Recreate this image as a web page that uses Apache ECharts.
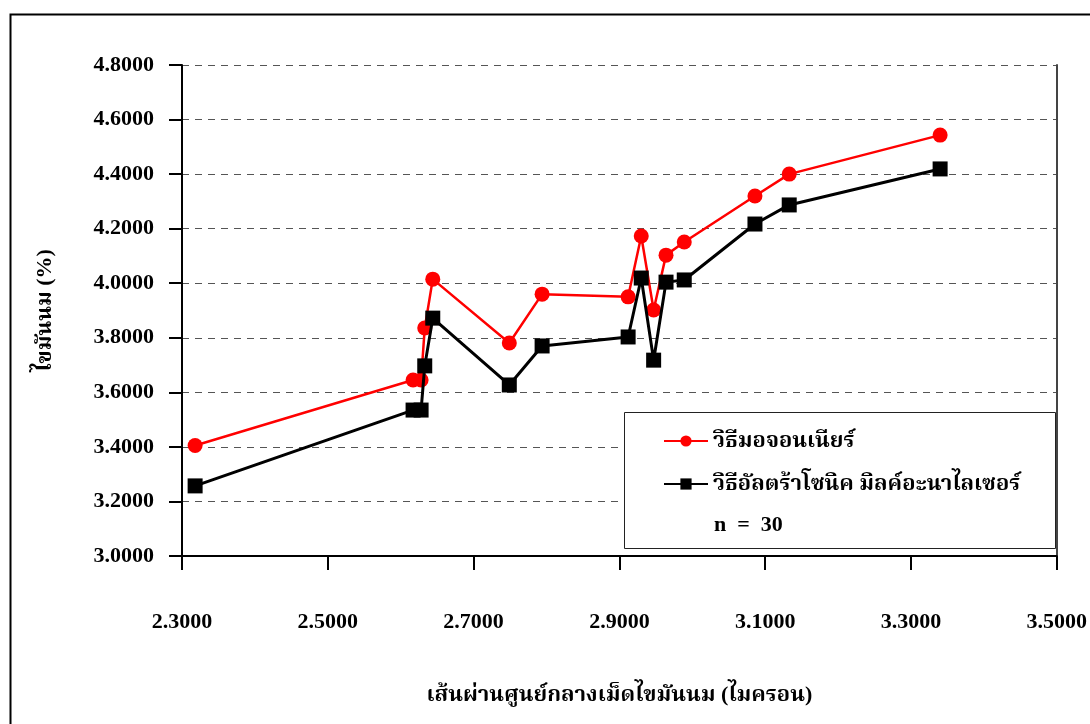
<!DOCTYPE html>
<html>
<head>
<meta charset="utf-8">
<script src="https://cdn.jsdelivr.net/npm/echarts@6/dist/echarts.min.js"></script>
<style>
html,body{margin:0;padding:0;background:#fff;}
#chart{width:1090px;height:724px;}
</style>
</head>
<body>
<div id="chart"></div>
<script>
// Data
var diameter = [2.318, 2.617, 2.628, 2.633, 2.644, 2.749, 2.794, 2.912, 2.930, 2.947, 2.964, 2.989, 3.086, 3.133, 3.340];
var mojonnier = [3.405, 3.645, 3.645, 3.836, 4.015, 3.781, 3.960, 3.950, 4.173, 3.902, 4.103, 4.151, 4.320, 4.400, 4.543];
var ultrasonic = [3.257, 3.535, 3.535, 3.697, 3.872, 3.627, 3.770, 3.803, 4.019, 3.718, 4.004, 4.012, 4.217, 4.287, 4.419];
var xTicks = [2.3, 2.5, 2.7, 2.9, 3.1, 3.3, 3.5];
var yTicks = [3.0, 3.2, 3.4, 3.6, 3.8, 4.0, 4.2, 4.4, 4.6, 4.8];
var seriesNames = ['วิธีมอจอนเนียร์', 'วิธีอัลตร้าโซนิค มิลค์อะนาไลเซอร์'];
var noteText = 'n  =  30';
var xTitle = 'เส้นผ่านศูนย์กลางเม็ดไขมันนม (ไมครอน)';
var yTitle = 'ไขมันนม (%)';

var FONT = '"Liberation Serif", "Times New Roman", "Noto Serif Thai", "Noto Sans Thai", "Loma", "Garuda", serif';

function pairs(xs, ys) { return xs.map(function (x, i) { return [x, ys[i]]; }); }

var chart = echarts.init(document.getElementById('chart'), null, {renderer: 'canvas'});
chart.setOption({
  animation: false,
  backgroundColor: '#ffffff',
  textStyle: {fontFamily: FONT},
  grid: {left: 182, right: 32, top: 65, bottom: 168, containLabel: false},
  graphic: [
    {type: 'rect', left: 8, top: 12, shape: {width: 1200, height: 900}, style: {fill: null, stroke: '#000', lineWidth: 2}, z: -10, silent: true},
    {type: 'rect', left: 624, top: 412, shape: {width: 431, height: 136}, style: {fill: '#fff', stroke: '#222', lineWidth: 1}, z: 50, silent: true},
    {type: 'text', left: 714, top: 514, style: {text: noteText, font: 'bold 22px ' + FONT, fill: '#000'}, z: 60, silent: true}
  ],
  legend: {
    orient: 'vertical',
    left: 663, top: 430,
    itemWidth: 44, itemHeight: 14, itemGap: 21,
    padding: 0,
    z: 60,
    textStyle: {fontFamily: FONT, fontSize: 22, fontWeight: 'bold', color: '#000'},
    data: seriesNames
  },
  xAxis: {
    type: 'value', min: xTicks[0], max: xTicks[xTicks.length - 1],
    name: xTitle, nameLocation: 'middle', nameGap: 128,
    nameTextStyle: {fontFamily: FONT, fontSize: 22, fontWeight: 'bold', color: '#000'},
    axisLine: {show: true, onZero: false, lineStyle: {color: '#000', width: 2}},
    axisTick: {show: true, customValues: xTicks, length: 14, lineStyle: {color: '#000', width: 2}},
    axisLabel: {customValues: xTicks, margin: 55, fontFamily: FONT, fontSize: 22, fontWeight: 'bold', color: '#000',
      formatter: function (v) { return Number(v).toFixed(4); }},
    splitLine: {show: false}
  },
  yAxis: [{
    type: 'value', min: yTicks[0], max: yTicks[yTicks.length - 1], interval: 0.2,
    name: yTitle, nameLocation: 'middle', nameGap: 126, nameRotate: 90,
    nameTextStyle: {fontFamily: FONT, fontSize: 22, fontWeight: 'bold', color: '#000'},
    axisLine: {show: true, onZero: false, lineStyle: {color: '#000', width: 2}},
    axisTick: {show: true, length: 13, lineStyle: {color: '#000', width: 2}},
    axisLabel: {margin: 28, fontFamily: FONT, fontSize: 22, fontWeight: 'bold', color: '#000',
      formatter: function (v) { return Number(v).toFixed(4); }},
    splitLine: {show: true, lineStyle: {color: '#555', width: 1, type: [7, 6]}}
  }, {
    type: 'value', position: 'right', min: yTicks[0], max: yTicks[yTicks.length - 1], interval: 0.2,
    axisLine: {show: true, lineStyle: {color: '#444', width: 2}},
    axisTick: {show: false}, axisLabel: {show: false}, splitLine: {show: false}
  }],
  series: [{
    name: seriesNames[0], type: 'line', data: pairs(diameter, mojonnier),
    symbol: 'circle', symbolSize: 15, z: 3,
    lineStyle: {color: '#ff0000', width: 2.5},
    itemStyle: {color: '#ff0000'}
  }, {
    name: seriesNames[1], type: 'line', data: pairs(diameter, ultrasonic),
    symbol: 'rect', symbolSize: 15, z: 4,
    lineStyle: {color: '#000000', width: 3},
    itemStyle: {color: '#000000'}
  }]
});
</script>
</body>
</html>
